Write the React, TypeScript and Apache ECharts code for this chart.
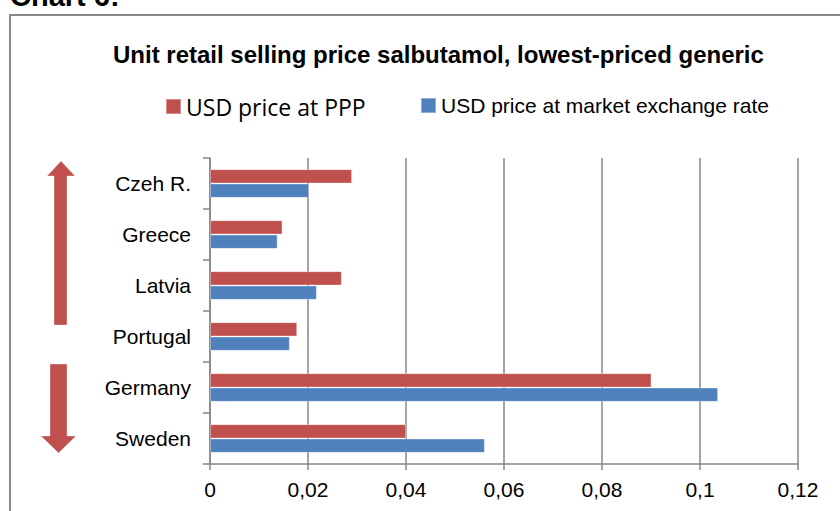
import React, { useEffect, useRef } from "react";
import * as echarts from "echarts";

const captionText = "Chart 6:";
const titleText = "Unit retail selling price salbutamol, lowest-priced generic";
const seriesNames = ["USD price at PPP", "USD price at market exchange rate"];
const categories = ["Czeh R.", "Greece", "Latvia", "Portugal", "Germany", "Sweden"];
const pppValues = [0.029, 0.0148, 0.0269, 0.0178, 0.0901, 0.04];
const marketValues = [0.0202, 0.0138, 0.0218, 0.0163, 0.1037, 0.0561];
const xMin = 0;
const xMax = 0.12;
const xStep = 0.02;

const RED = "#C0504D";
const BLUE = "#4F81BD";
const AXIS = "#868686";
const ARIAL = "Arial, 'Liberation Sans', sans-serif";

export default function App() {
  const ref = useRef<HTMLDivElement>(null);
  useEffect(() => {
    if (!ref.current) return;
    const chart = echarts.init(ref.current, null, { renderer: "svg" });
    chart.setOption({
      animation: false,
      backgroundColor: "#ffffff",
      title: {
        text: titleText,
        left: 113,
        top: 42,
        padding: 0,
        textStyle: { fontFamily: ARIAL, fontSize: 24, fontWeight: "bold", color: "#000" },
      },
      legend: [
        {
          data: [seriesNames[0]],
          left: 165,
          top: 95,
          padding: 0,
          icon: "rect",
          itemWidth: 15,
          itemHeight: 15,
          textStyle: { fontFamily: "'Open Sans', 'Noto Sans', sans-serif", fontSize: 23, color: "#000" },
        },
        {
          data: [seriesNames[1]],
          left: 420,
          top: 95,
          padding: 0,
          icon: "rect",
          itemWidth: 15,
          itemHeight: 15,
          textStyle: { fontFamily: ARIAL, fontSize: 21, color: "#000" },
        },
      ],
      grid: { left: 210, right: 42, top: 158, bottom: 47, containLabel: false },
      xAxis: {
        type: "value",
        min: xMin,
        max: xMax,
        interval: xStep,
        axisLine: { show: true, lineStyle: { color: AXIS, width: 1.5 } },
        axisTick: { show: true, length: 6, lineStyle: { color: AXIS, width: 1.5 } },
        splitLine: { show: true, lineStyle: { color: AXIS, width: 1.5 } },
        axisLabel: {
          margin: 15,
          fontFamily: ARIAL,
          fontSize: 21,
          color: "#000",
          formatter: (v: number) => String(parseFloat(v.toFixed(4))).replace(".", ","),
        },
      },
      yAxis: {
        type: "category",
        inverse: true,
        data: categories,
        axisLine: { show: true, lineStyle: { color: AXIS, width: 1.5 } },
        axisTick: { show: true, length: 7, lineStyle: { color: AXIS, width: 1.5 } },
        axisLabel: { margin: 19, fontFamily: ARIAL, fontSize: 21, color: "#000" },
      },
      series: [
        {
          name: seriesNames[0],
          type: "bar",
          data: pppValues,
          barGap: "0%",
          barCategoryGap: "43.7%",
          itemStyle: { color: RED, borderColor: "rgba(255,255,255,0.35)", borderWidth: 1 },
        },
        {
          name: seriesNames[1],
          type: "bar",
          data: marketValues,
          barGap: "0%",
          barCategoryGap: "43.7%",
          itemStyle: { color: BLUE, borderColor: "rgba(255,255,255,0.35)", borderWidth: 1 },
        },
      ],
      graphic: [
        {
          type: "rect",
          shape: { x: 10, y: 15, width: 900, height: 600 },
          style: { fill: "none", stroke: "#8a8a8a", lineWidth: 2 },
          silent: true,
        },
        {
          type: "text",
          x: 10,
          y: -4,
          style: {
            text: captionText,
            fontFamily: ARIAL,
            fontSize: 29,
            fontWeight: "bold",
            fill: "#000",
            verticalAlign: "middle",
            align: "left",
          },
        },
        {
          type: "polygon",
          shape: {
            points: [
              [61, 161],
              [75, 176],
              [67, 176],
              [67, 325],
              [54, 325],
              [54, 176],
              [47, 176],
            ],
          },
          style: { fill: RED, stroke: "rgba(255,255,255,0.35)", lineWidth: 1 },
        },
        {
          type: "polygon",
          shape: {
            points: [
              [50, 364],
              [67, 364],
              [67, 436],
              [76, 436],
              [58.5, 453],
              [41, 436],
              [50, 436],
            ],
          },
          style: { fill: RED, stroke: "rgba(255,255,255,0.35)", lineWidth: 1 },
        },
      ],
    });
    return () => chart.dispose();
  }, []);
  return (
    <div
      ref={ref}
      style={{ position: "absolute", left: 0, top: 0, width: 840, height: 511 }}
    />
  );
}
